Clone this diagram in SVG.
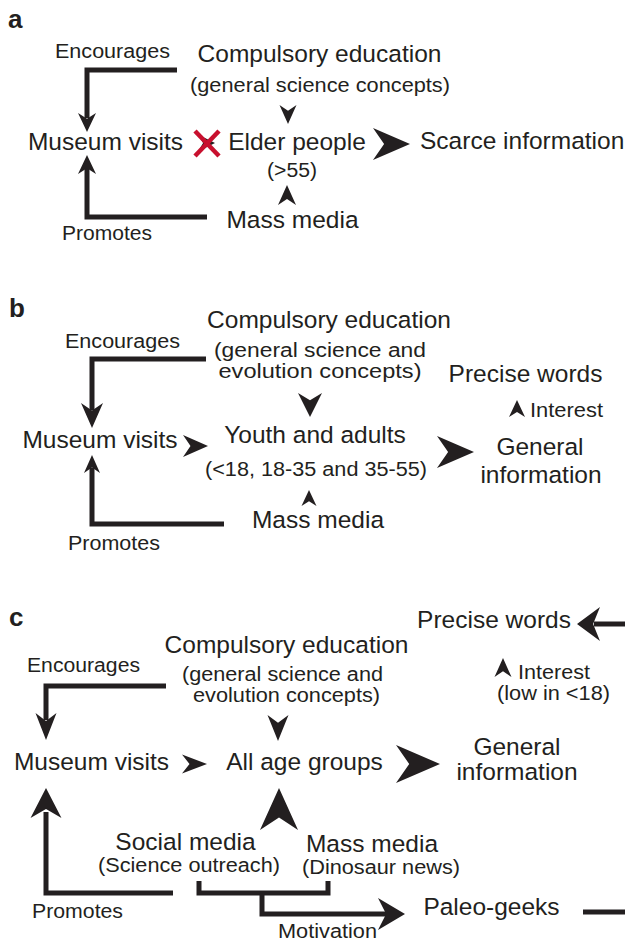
<svg xmlns="http://www.w3.org/2000/svg" width="625" height="943" viewBox="0 0 625 943">
<style>
text{font-family:"Liberation Sans",Arial,sans-serif;fill:#231f20}
.m{font-size:24.5px;text-anchor:middle}
.s{font-size:19.5px;text-anchor:middle}
.st{font-size:19.5px}
.mt{font-size:24.5px}
.p{font-size:26px;font-weight:bold}
.ln{fill:none;stroke:#231f20;stroke-width:5;stroke-linejoin:miter;stroke-linecap:butt}
.hd{fill:#231f20}
.x{stroke:#c8102e;stroke-width:4.5;stroke-linecap:butt}
</style>
<defs>
<path id="chev" d="M0,0 L-1,-0.5 L-0.7,0 L-1,0.5 Z"/>
</defs>
<rect width="625" height="943" fill="#fff"/>

<!-- Panel a -->
<g id="panel-a">
<text class="p" x="8" y="28">a</text>
<g id="a-compulsory"><text class="m" x="319.5" y="62">Compulsory education</text><text class="s" x="320" y="92" textLength="260" lengthAdjust="spacingAndGlyphs">(general science concepts)</text></g>
<g id="a-museum"><text class="m" x="105.5" y="150">Museum visits</text></g>
<g id="a-elder"><text class="m" x="297" y="150">Elder people</text><text class="s" x="292" y="177" textLength="50" lengthAdjust="spacingAndGlyphs">(&gt;55)</text></g>
<g id="a-scarce"><text class="mt" x="420" y="149">Scarce information</text></g>
<g id="a-mass"><text class="m" x="292.5" y="228">Mass media</text></g>
</g>
<g id="a-connectors">
<path class="ln" d="M177,70 H87 V118"/>
<use href="#chev" class="hd" transform="translate(87,132) rotate(90) scale(19,18)"/>
<text class="s" x="112.5" y="58" textLength="115" lengthAdjust="spacingAndGlyphs">Encourages</text>
<path class="ln" d="M207,217 H87 V168"/>
<use href="#chev" class="hd" transform="translate(87,155) rotate(-90) scale(19,18)"/>
<text class="s" x="107" y="240" textLength="90" lengthAdjust="spacingAndGlyphs">Promotes</text>
<use href="#chev" class="hd" transform="translate(288,124) rotate(90) scale(19,17)"/>
<use href="#chev" class="hd" transform="translate(287,185) rotate(-90) scale(20,18)"/>
<use href="#chev" class="hd" transform="translate(215,143) scale(17,17)"/>
<line class="x" x1="195" y1="131" x2="219" y2="156"/>
<line class="x" x1="219" y1="131" x2="195" y2="156"/>
<use href="#chev" class="hd" transform="translate(410,144) scale(37,32)"/>
</g>

<!-- Panel b -->
<g id="panel-b">
<text class="p" x="9" y="317">b</text>
<g id="b-compulsory"><text class="m" x="329" y="328">Compulsory education</text><text class="s" x="320" y="357" textLength="212" lengthAdjust="spacingAndGlyphs">(general science and</text><text class="s" x="320" y="378" textLength="203" lengthAdjust="spacingAndGlyphs">evolution concepts)</text></g>
<g id="b-museum"><text class="m" x="100" y="448">Museum visits</text></g>
<g id="b-youth"><text class="m" x="315" y="443">Youth and adults</text><text class="s" x="316" y="476" textLength="222" lengthAdjust="spacingAndGlyphs">(&lt;18, 18-35 and 35-55)</text></g>
<g id="b-mass"><text class="m" x="318" y="528">Mass media</text></g>
<g id="b-precise"><text class="m" x="525.5" y="382">Precise words</text></g>
<g id="b-general"><text class="m" x="540" y="455">General</text><text class="m" x="541" y="483">information</text></g>
</g>
<g id="b-connectors">
<path class="ln" d="M206,359 H92 V410"/>
<use href="#chev" class="hd" transform="translate(92,428) rotate(90) scale(25,22)"/>
<text class="s" x="122.5" y="348" textLength="115" lengthAdjust="spacingAndGlyphs">Encourages</text>
<path class="ln" d="M224,524 H92 V468"/>
<use href="#chev" class="hd" transform="translate(92,455) rotate(-90) scale(18,16)"/>
<text class="s" x="114" y="550" textLength="92" lengthAdjust="spacingAndGlyphs">Promotes</text>
<use href="#chev" class="hd" transform="translate(208,446) scale(25,22)"/>
<use href="#chev" class="hd" transform="translate(310,417) rotate(90) scale(24,24)"/>
<use href="#chev" class="hd" transform="translate(309,490) rotate(-90) scale(16,15)"/>
<use href="#chev" class="hd" transform="translate(474,452) scale(37,32)"/>
<use href="#chev" class="hd" transform="translate(517,400) rotate(-90) scale(17,16)"/>
<text class="st" x="530" y="417" textLength="73" lengthAdjust="spacingAndGlyphs">Interest</text>
</g>

<!-- Panel c -->
<g id="panel-c">
<text class="p" x="9" y="626">c</text>
<g id="c-compulsory"><text class="m" x="286.5" y="653">Compulsory education</text><text class="s" x="282.5" y="681" textLength="201" lengthAdjust="spacingAndGlyphs">(general science and</text><text class="s" x="286.5" y="702" textLength="187" lengthAdjust="spacingAndGlyphs">evolution concepts)</text></g>
<g id="c-museum"><text class="m" x="91.5" y="770">Museum visits</text></g>
<g id="c-allage"><text class="m" x="304.5" y="770">All age groups</text></g>
<g id="c-social"><text class="m" x="185.5" y="850">Social media</text><text class="s" x="189" y="872" textLength="182" lengthAdjust="spacingAndGlyphs">(Science outreach)</text></g>
<g id="c-mass"><text class="m" x="372" y="852">Mass media</text><text class="s" x="381" y="874" textLength="158" lengthAdjust="spacingAndGlyphs">(Dinosaur news)</text></g>
<g id="c-general"><text class="m" x="517" y="755">General</text><text class="m" x="517" y="780">information</text></g>
<g id="c-precise"><text class="m" x="494" y="628">Precise words</text></g>
<g id="c-paleo"><text class="m" x="491.5" y="915">Paleo-geeks</text></g>
</g>
<g id="c-connectors">
<path class="ln" d="M166,686 H46 V720"/>
<use href="#chev" class="hd" transform="translate(46,740) rotate(90) scale(27,21)"/>
<text class="s" x="83.5" y="672" textLength="113" lengthAdjust="spacingAndGlyphs">Encourages</text>
<path class="ln" d="M173,893 H46 V812"/>
<use href="#chev" class="hd" transform="translate(46,788) rotate(-90) scale(30,31)"/>
<text class="s" x="77.5" y="918" textLength="91" lengthAdjust="spacingAndGlyphs">Promotes</text>
<use href="#chev" class="hd" transform="translate(207,764) scale(25,19)"/>
<use href="#chev" class="hd" transform="translate(278,741) rotate(90) scale(26,21)"/>
<use href="#chev" class="hd" transform="translate(279,788) rotate(-90) scale(42,38)"/>
<use href="#chev" class="hd" transform="translate(440,764) scale(44,38)"/>
<path class="ln" d="M199,881 V893 H328 V881"/>
<path class="ln" d="M262,893 V914 H388"/>
<use href="#chev" class="hd" transform="translate(405,914) scale(27,32)"/>
<text class="s" x="327.5" y="938" textLength="99" lengthAdjust="spacingAndGlyphs">Motivation</text>
<path class="ln" d="M583,912 H625"/>
<path class="ln" d="M625,624 H594"/>
<use href="#chev" class="hd" transform="translate(577,624) rotate(180) scale(23,34)"/>
<use href="#chev" class="hd" transform="translate(503,658) rotate(-90) scale(19,17)"/>
<text class="st" x="518" y="679" textLength="72" lengthAdjust="spacingAndGlyphs">Interest</text>
<text class="s" x="553.5" y="700" textLength="113" lengthAdjust="spacingAndGlyphs">(low in &lt;18)</text>
</g>
</svg>
